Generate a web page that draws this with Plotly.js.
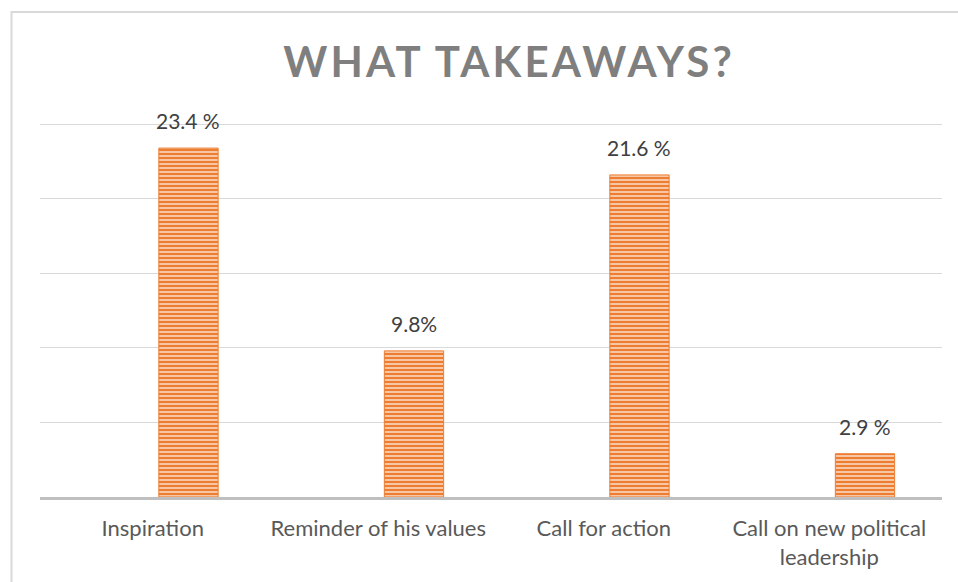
<!DOCTYPE html>
<html>
<head>
<meta charset="utf-8">
<script src="https://cdn.plot.ly/plotly-3.0.1.min.js"></script>
<style>
  html, body { margin: 0; padding: 0; background: #fff; }
  #chart { width: 958px; height: 582px; }
  .gtitle { letter-spacing: 3.2px; }
</style>
</head>
<body>
<div id="chart"></div>
<script>
const categories = ["Inspiration", "Reminder of his values", "Call for action", "Call on new political<br>leadership"];
const values = [23.4, 9.8, 21.6, 2.9];
const valueLabels = ["23.4 %", "9.8%", "21.6 %", "2.9 %"];
const yTicks = [0, 5, 10, 15, 20, 25];

const barOffset = 0.027;
const barWidth = 0.263;
const idx = categories.map((c, i) => i);

const trace = {
  type: "bar",
  x: idx,
  y: values,
  offset: barOffset,
  width: barWidth,
  marker: {
    color: "#ED7D31",
    line: { color: "#ED7D31", width: 1 },
    pattern: { shape: "-", fillmode: "replace", bgcolor: "#ED7D31", fgcolor: "#FAD9C2", size: 4, solidity: 0.4 }
  },
  hoverinfo: "skip"
};

const annotations = values.map((v, i) => ({
  x: i + barOffset + barWidth / 2,
  y: v,
  xref: "x", yref: "y",
  text: valueLabels[i],
  showarrow: false,
  yanchor: "bottom",
  yshift: 13,
  font: { family: "Lato", size: 21, color: "#404040" }
}));

const layout = {
  width: 958, height: 582,
  margin: { l: 40, r: 16, t: 122, b: 85 },
  paper_bgcolor: "#ffffff",
  plot_bgcolor: "#ffffff",
  showlegend: false,
  title: {
    text: "<b>WHAT TAKEAWAYS?</b>",
    font: { family: "Lato", size: 42, color: "#7F7F7F" },
    x: 0.52, xref: "paper", xanchor: "center",
    y: 1 - 62 / 582, yref: "container", yanchor: "middle"
  },
  xaxis: {
    tickmode: "array",
    tickvals: idx,
    ticktext: categories,
    range: [-0.5, categories.length - 0.5],
    showgrid: false,
    zeroline: false,
    showline: true,
    linecolor: "#BFBFBF",
    linewidth: 3,
    ticks: "",
    ticklabelstandoff: 10,
    tickfont: { family: "Lato", size: 22, color: "#595959" },
    fixedrange: true
  },
  yaxis: {
    range: [0, 25.15],
    tickmode: "array",
    tickvals: yTicks,
    showticklabels: false,
    showgrid: true,
    gridcolor: "#D9D9D9",
    gridwidth: 1,
    zeroline: false,
    showline: false,
    ticks: "",
    fixedrange: true
  },
  annotations: annotations,
  shapes: [{
    type: "rect", xref: "paper", yref: "paper",
    x0: (11.5 - 40) / 902, x1: 1.2,
    y0: (497 - 12) / 375, y1: -0.5,
    line: { color: "#D9D9D9", width: 2 },
    fillcolor: "rgba(0,0,0,0)",
    layer: "below"
  }]
};

Plotly.newPlot("chart", [trace], layout, { displayModeBar: false, staticPlot: true });
</script>
</body>
</html>
